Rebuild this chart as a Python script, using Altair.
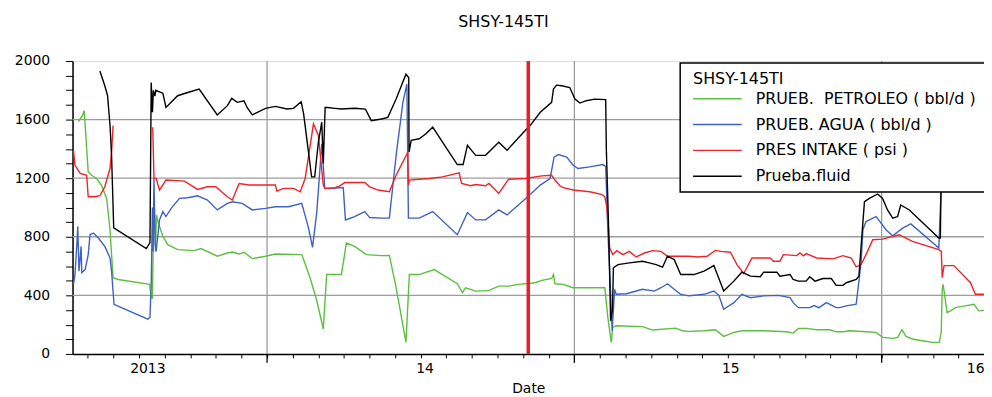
import altair as alt
import pandas as pd

FONT = "DejaVu Sans"

chart_title = "SHSY-145TI"
series_names = ["PRUEB.\u00a0 PETROLEO ( bbl/d )", "PRUEB. AGUA ( bbl/d )", "PRES INTAKE ( psi )", "Prueba.fluid"]
series_colors = ["#5cbf3f", "#3d62c2", "#f0222a", "#000000"]

# x values are decimal years (Date axis)
petroleo_t = [2013.386, 2013.399, 2013.405, 2013.413, 2013.418, 2013.429, 2013.445, 2013.461, 2013.478, 2013.489,
              2013.494, 2013.499, 2013.515, 2013.618, 2013.623, 2013.627, 2013.632, 2013.637, 2013.640, 2013.645,
              2013.661, 2013.677, 2013.709, 2013.763, 2013.785, 2013.838, 2013.871, 2013.887, 2013.909, 2013.925,
              2013.952, 2013.995, 2014.027, 2014.113, 2014.140, 2014.162, 2014.183, 2014.194, 2014.242, 2014.258,
              2014.285, 2014.323, 2014.372, 2014.398, 2014.420, 2014.452, 2014.463, 2014.495, 2014.544, 2014.619,
              2014.636, 2014.646, 2014.679, 2014.722, 2014.754, 2014.786, 2014.818, 2014.872, 2014.894, 2014.926,
              2014.932, 2014.937, 2014.964, 2014.996, 2015.099, 2015.109, 2015.120, 2015.125, 2015.136, 2015.222,
              2015.255, 2015.330, 2015.352, 2015.373, 2015.422, 2015.459, 2015.486, 2015.519, 2015.545, 2015.616,
              2015.691, 2015.712, 2015.729, 2015.755, 2015.788, 2015.831, 2015.852, 2015.874, 2015.896, 2015.949,
              2015.982, 2016.003, 2016.036, 2016.052, 2016.066, 2016.079, 2016.100, 2016.132, 2016.165, 2016.188,
              2016.194, 2016.197, 2016.200, 2016.213, 2016.224, 2016.240, 2016.272, 2016.300, 2016.316, 2016.349]
petroleo_v = [1587, 1627, 1661, 1401, 1243, 1220, 1198, 1153, 1062, 848,
              678, 520, 508, 475, 384, 380, 1085, 700, 950, 904,
              802, 746, 712, 705, 719, 667, 689, 696, 682, 694,
              651, 667, 682, 678, 520, 361, 170, 542, 542, 757,
              734, 678, 671, 673, 452, 79, 542, 542, 576, 479,
              418, 452, 429, 434, 463, 463, 475, 486, 502, 515,
              542, 479, 475, 452, 452, 248, 79, 181, 192, 186,
              163, 176, 158, 154, 158, 165, 120, 147, 158, 158,
              151, 142, 174, 174, 165, 165, 151, 151, 158, 151,
              147, 113, 106, 113, 165, 120, 102, 90, 79, 79,
              158, 441, 475, 282, 294, 316, 328, 339, 294, 301]

agua_t = [2013.370, 2013.375, 2013.381, 2013.384, 2013.388, 2013.395, 2013.397, 2013.408, 2013.418, 2013.424,
          2013.435, 2013.451, 2013.472, 2013.489, 2013.494, 2013.502, 2013.526, 2013.612, 2013.619, 2013.623,
          2013.627, 2013.629, 2013.632, 2013.636, 2013.639, 2013.650, 2013.661, 2013.671, 2013.688, 2013.715,
          2013.742, 2013.774, 2013.806, 2013.838, 2013.871, 2013.887, 2013.919, 2013.952, 2013.995, 2014.027,
          2014.070, 2014.113, 2014.135, 2014.148, 2014.162, 2014.178, 2014.188, 2014.210, 2014.237, 2014.248,
          2014.255, 2014.285, 2014.318, 2014.334, 2014.372, 2014.398, 2014.420, 2014.442, 2014.455, 2014.460,
          2014.495, 2014.539, 2014.619, 2014.652, 2014.679, 2014.711, 2014.754, 2014.781, 2014.840, 2014.872,
          2014.889, 2014.921, 2014.934, 2014.948, 2014.975, 2014.996, 2015.012, 2015.050, 2015.093, 2015.102,
          2015.109, 2015.115, 2015.123, 2015.131, 2015.136, 2015.169, 2015.222, 2015.260, 2015.282, 2015.303,
          2015.325, 2015.346, 2015.373, 2015.422, 2015.454, 2015.470, 2015.486, 2015.519, 2015.545, 2015.573,
          2015.616, 2015.664, 2015.702, 2015.712, 2015.729, 2015.766, 2015.780, 2015.796, 2015.820, 2015.852,
          2015.863, 2015.885, 2015.917, 2015.933, 2015.939, 2015.949, 2015.965, 2015.982, 2015.998, 2016.014,
          2016.036, 2016.068, 2016.095, 2016.186, 2016.194]
agua_v = [475, 542, 746, 870, 565, 734, 554, 576, 678, 814,
          825, 791, 734, 655, 565, 339, 316, 237, 250, 475,
          1000, 700, 1198, 750, 700, 915, 972, 938, 994, 1062,
          1066, 1080, 1051, 983, 1028, 1039, 1028, 983, 994, 1005,
          1005, 1028, 859, 728, 972, 1435, 1130, 1130, 1135, 1135,
          915, 938, 972, 931, 927, 927, 1356, 1718, 1842, 927,
          927, 972, 814, 965, 915, 915, 983, 949, 1058, 1119,
          1153, 1198, 1344, 1361, 1344, 1288, 1266, 1277, 1293, 1280,
          836, 565, 158, 441, 407, 411, 441, 429, 452, 479,
          441, 407, 396, 407, 429, 400, 305, 350, 407, 384,
          396, 400, 384, 350, 316, 316, 330, 316, 350, 316,
          316, 328, 339, 622, 848, 904, 920, 938, 893, 848,
          807, 859, 888, 723, 1150]

# None marks a gap in the record
intake_t = [2013.370, 2013.375, 2013.392, 2013.413, 2013.418, 2013.440, 2013.456, 2013.472, 2013.489, 2013.494,
            2013.499, None,
            2013.628, 2013.632, 2013.639, 2013.650, 2013.671, 2013.731, 2013.774, 2013.806, 2013.833, 2013.871,
            2013.887, 2013.909, 2013.941, 2014.027, 2014.032, 2014.054, 2014.086, 2014.108, 2014.124, 2014.151,
            2014.167, 2014.183, 2014.188, 2014.221, 2014.237, 2014.253, 2014.318, 2014.334, 2014.361, 2014.398,
            2014.420, 2014.458, 2014.460, 2014.463, 2014.495, 2014.528, 2014.571, 2014.625, 2014.633, 2014.662,
            2014.679, 2014.711, 2014.722, 2014.754, 2014.786, 2014.840, 2014.894, 2014.926, 2014.937, 2014.953,
            2014.964, 2014.996, 2015.050, 2015.088, 2015.099, 2015.106, 2015.115, 2015.125, 2015.138, 2015.158,
            2015.179, 2015.201, 2015.228, 2015.255, 2015.282, 2015.303, 2015.373, 2015.400, 2015.432, 2015.459,
            2015.476, 2015.508, 2015.529, 2015.551, 2015.578, 2015.637, 2015.648, 2015.669, 2015.680, 2015.723,
            2015.734, 2015.745, 2015.755, 2015.788, 2015.842, 2015.874, 2015.901, 2015.917, 2015.933, 2015.949,
            2015.971, 2016.003, 2016.057, 2016.100, 2016.186, 2016.194, 2016.197, 2016.203, 2016.235, 2016.289,
            2016.305, 2016.349]
intake_v = [1390, 1288, 1232, 1220, 1073, 1073, 1080, 1141, 1266, 1378,
            1559, None,
            1548, 1200, 1198, 1119, 1187, 1180, 1123, 1141, 1141, 1073,
            1051, 1164, 1153, 1153, 1112, 1130, 1130, 1107, 1198, 1571,
            1492, 1153, 1130, 1135, 1148, 1170, 1170, 1141, 1119, 1107,
            1220, 1378, 1153, 1187, 1193, 1198, 1209, 1237, 1164, 1148,
            1157, 1148, 1164, 1096, 1193, 1198, 1216, 1220, 1187, 1148,
            1135, 1119, 1107, 1090, 1073, 1000, 723, 678, 705, 678,
            700, 662, 689, 705, 700, 667, 667, 662, 667, 707,
            700, 694, 610, 549, 655, 655, 633, 633, 678, 671,
            689, 670, 685, 655, 649, 671, 655, 595, 610, 678,
            780, 784, 814, 768, 712, 700, 520, 603, 603, 486,
            407, 407]

fluid_t = [2013.456, 2013.472, 2013.481, 2013.489, 2013.494, 2013.501, 2013.607, 2013.619, 2013.623, 2013.627,
           2013.630, 2013.635, 2013.638, 2013.650, 2013.661, 2013.671, 2013.709, 2013.742, 2013.779, 2013.838,
           2013.871, 2013.885, 2013.903, 2013.925, 2013.935, 2013.952, 2013.995, 2014.027, 2014.065, 2014.086,
           2014.111, 2014.119, 2014.132, 2014.145, 2014.155, 2014.167, 2014.178, 2014.183, 2014.189, 2014.197,
           2014.221, 2014.242, 2014.285, 2014.320, 2014.339, 2014.372, 2014.393, 2014.420, 2014.452, 2014.461,
           2014.462, 2014.469, 2014.495, 2014.517, 2014.539, 2014.571, 2014.619, 2014.638, 2014.652, 2014.679,
           2014.711, 2014.754, 2014.781, 2014.840, 2014.856, 2014.889, 2014.926, 2014.932, 2014.942, 2014.959,
           2014.985, 2015.002, 2015.018, 2015.039, 2015.066, 2015.102, 2015.104, 2015.111, 2015.118, 2015.124,
           2015.127, 2015.142, 2015.179, 2015.222, 2015.244, 2015.266, 2015.287, 2015.303, 2015.325, 2015.346,
           2015.373, 2015.389, 2015.422, 2015.454, 2015.486, 2015.519, 2015.545, 2015.573, 2015.605, 2015.616,
           2015.659, 2015.669, 2015.702, 2015.712, 2015.729, 2015.754, 2015.766, 2015.783, 2015.809, 2015.836,
           2015.852, 2015.874, 2015.885, 2015.917, 2015.926, 2015.933, 2015.944, 2015.960, 2015.987, 2016.003,
           2016.019, 2016.036, 2016.052, 2016.062, 2016.090, 2016.186, 2016.191, 2016.194]
fluid_v = [1932, 1831, 1763, 1560, 1356, 861, 719, 760, 1853, 1650,
           1800, 1760, 1800, 1790, 1780, 1683, 1763, 1785, 1808, 1632,
           1695, 1745, 1718, 1729, 1683, 1632, 1677, 1690, 1672, 1677,
           1722, 1639, 1424, 1209, 1209, 1446, 1582, 1300, 1683, 1683,
           1677, 1672, 1677, 1672, 1593, 1604, 1615, 1740, 1910, 1887,
           1378, 1458, 1469, 1503, 1548, 1446, 1293, 1293, 1424, 1356,
           1356, 1446, 1390, 1526, 1559, 1650, 1718, 1808, 1835, 1831,
           1819, 1740, 1713, 1729, 1740, 1736, 1401, 900, 226, 300,
           588, 610, 622, 633, 622, 610, 592, 667, 644, 542,
           542, 542, 565, 603, 429, 497, 558, 531, 527, 558,
           558, 531, 542, 508, 497, 497, 527, 497, 515, 515,
           468, 468, 486, 508, 531, 734, 1039, 1062, 1092, 1062,
           983, 927, 938, 1017, 983, 791, 791, 1300]

year_boundaries = [2014.0, 2015.0, 2016.0]
year_labels = ["2013", "14", "15", "16"]
year_label_pos = [2013.612, 2014.514, 2015.509, 2016.306]
y_grid_values = [400, 800, 1200, 1600]
marker_date = [2014.850]
x_domain = [2013.367, 2016.333]

# ---- build long table ----
rows = []
for name, ts, vs in zip(series_names, [petroleo_t, agua_t, intake_t, fluid_t],
                        [petroleo_v, agua_v, intake_v, fluid_v]):
    seg = 0
    for i, (t, v) in enumerate(zip(ts, vs)):
        if t is None or v is None:
            seg += 1
            continue
        rows.append({"serie": name, "t": t, "v": v, "seg": f"{name}-{seg}", "i": i})
df = pd.DataFrame(rows)

month_ticks = [y + m / 12 for y in range(2013, 2017) for m in range(12)
               if x_domain[0] <= y + m / 12 <= x_domain[1]]

xscale = alt.Scale(domain=x_domain, nice=False, zero=False)
yscale = alt.Scale(domain=[0, 2000], nice=False, zero=True)

xaxis = alt.Axis(values=month_ticks, labels=False, tickSize=4, tickColor="#000", tickWidth=1,
                 domainColor="#000", domainWidth=1.5, grid=False, title="Date",
                 titleFont=FONT, titleFontSize=14, titleFontWeight="normal", titleColor="#000",
                 titlePadding=23)
yaxis = alt.Axis(values=list(range(0, 2001, 100)), format="d",
                 labelExpr="datum.value % 400 == 0 ? datum.label : ''",
                 tickSize=7, tickColor="#000", tickWidth=1, domainColor="#000", domainWidth=1.5,
                 grid=False, title=None, labelFont=FONT, labelFontSize=14, labelColor="#000",
                 labelPadding=16)


def X(field):
    return alt.X(field, type="quantitative", scale=xscale, axis=xaxis)


def Y(field):
    return alt.Y(field, type="quantitative", scale=yscale, axis=yaxis)


vgrid = alt.Chart(pd.DataFrame({"g": year_boundaries})).mark_rule(
    color="#9c9c9c", strokeWidth=1.3).encode(x=X("g"))
hgrid = alt.Chart(pd.DataFrame({"h": y_grid_values})).mark_rule(
    color="#9c9c9c", strokeWidth=1.3).encode(y=Y("h"))

base = alt.Chart(df).mark_line(strokeWidth=1.4, clip=True).encode(
    x=X("t"), y=Y("v"),
    color=alt.Color("serie:N", scale=alt.Scale(domain=series_names, range=series_colors), legend=None),
    detail="seg:N",
    order=alt.Order("i:Q"),
)
line_layers = [base.transform_filter(alt.datum.serie == n) for n in series_names]

marker = alt.Chart(pd.DataFrame({"m": marker_date})).mark_rule(
    color="#ee1c24", strokeWidth=3.5).encode(x=X("m"))

major_ticks = alt.Chart(pd.DataFrame({"g": year_boundaries})).mark_rule(
    color="#000", strokeWidth=1.3).encode(x=X("g"), y=alt.value(295), y2=alt.value(304))

year_text = alt.Chart(pd.DataFrame({"p": year_label_pos, "lab": year_labels})).mark_text(
    font=FONT, fontSize=14, color="#000", baseline="middle", align="center").encode(
    x=X("p"), y=alt.value(310), text="lab:N")

# legend drawn as a boxed panel
one = pd.DataFrame({"a": [0]})
legend_box = alt.Chart(one).mark_rect(fill="white", stroke="#000", strokeWidth=1.5).encode(
    x=alt.value(612), x2=alt.value(935), y=alt.value(2), y2=alt.value(132))
legend_title = alt.Chart(one).mark_text(font=FONT, fontSize=16, color="#000", align="left",
                                        baseline="middle").encode(
    x=alt.value(625), y=alt.value(18), text=alt.value(chart_title))
legend_layers = [legend_box, legend_title]
for k, (n, c) in enumerate(zip(series_names, series_colors)):
    yy = 38 + 26 * k
    legend_layers.append(alt.Chart(one).mark_rule(color=c, strokeWidth=1.5).encode(
        x=alt.value(625), x2=alt.value(674), y=alt.value(yy)))
    legend_layers.append(alt.Chart(one).mark_text(font=FONT, fontSize=16, color="#000",
                                                  align="left", baseline="middle").encode(
        x=alt.value(688), y=alt.value(yy), text=alt.value(n)))

chart = alt.layer(
    vgrid, hgrid, *line_layers, marker, major_ticks, year_text, *legend_layers
).properties(
    width=918, height=295,
    title=alt.TitleParams(chart_title, font=FONT, fontSize=16, fontWeight="normal", color="#000",
                          anchor="middle", dx=-25, offset=24),
    autosize=alt.AutoSizeParams(type="none"),
    padding={"left": 65, "top": 52, "right": 0, "bottom": 42},
).configure_view(stroke="#000", strokeWidth=1.5).configure(background="white")

chart.save("out.html", embed_options={"renderer": "svg", "actions": False})
